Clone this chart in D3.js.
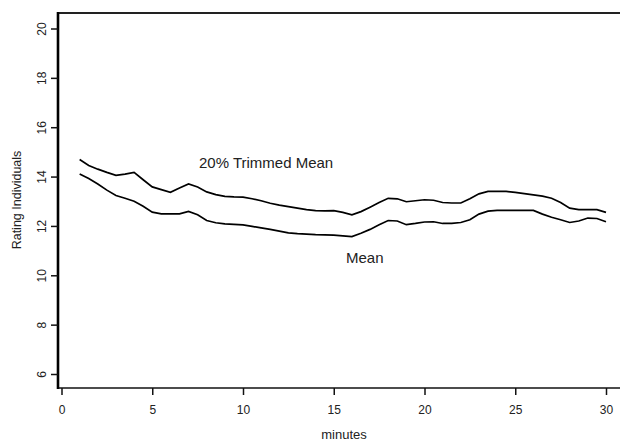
<!DOCTYPE html>
<html><head><meta charset="utf-8">
<script src="https://cdn.jsdelivr.net/npm/d3@7"></script>
<style>body{margin:0;background:#fff}svg{display:block}text{font-family:"Liberation Sans",Arial,sans-serif;fill:#222}</style>
</head><body>
<script>
const minutes = [1,1.5,2,2.5,3,3.5,4,4.5,5,5.5,6,6.5,7,7.5,8,8.5,9,9.5,10,10.5,11,11.5,12,12.5,13,13.5,14,14.5,15,15.5,16,16.5,17,17.5,18,18.5,19,19.5,20,20.5,21,21.5,22,22.5,23,23.5,24,24.5,25,25.5,26,26.5,27,27.5,28,28.5,29,29.5,30];
const trimmedMean = [14.69,14.45,14.30,14.17,14.05,14.10,14.17,13.87,13.58,13.47,13.36,13.54,13.70,13.58,13.38,13.27,13.20,13.18,13.17,13.10,13.02,12.92,12.84,12.78,12.72,12.66,12.62,12.61,12.62,12.55,12.45,12.58,12.76,12.95,13.12,13.10,12.98,13.02,13.06,13.04,12.95,12.93,12.93,13.10,13.30,13.40,13.40,13.40,13.36,13.31,13.26,13.21,13.12,12.95,12.72,12.66,12.66,12.66,12.55];
const meanValues = [14.10,13.92,13.70,13.45,13.23,13.12,13.00,12.80,12.56,12.49,12.49,12.49,12.59,12.45,12.22,12.13,12.08,12.06,12.04,11.98,11.92,11.86,11.79,11.72,11.69,11.67,11.65,11.64,11.63,11.60,11.57,11.70,11.86,12.05,12.22,12.20,12.05,12.10,12.16,12.17,12.10,12.10,12.14,12.25,12.48,12.60,12.63,12.63,12.63,12.63,12.63,12.48,12.35,12.25,12.14,12.20,12.32,12.30,12.17];
const xTicks = [0,5,10,15,20,25,30];
const yTicks = [6,8,10,12,14,16,18,20];
const seriesLabels = ["20% Trimmed Mean","Mean"];

const W=620,H=441;
const svg=d3.select("body").append("svg").attr("width",W).attr("height",H);
const x=d3.scaleLinear().domain([0,30]).range([61.5,606]);
const y=d3.scaleLinear().domain([6,20]).range([374,28.5]);
const frameTop=13,frameBottom=388,frameLeft=58;

// frame
svg.append("line").attr("x1",frameLeft).attr("x2",W+5).attr("y1",frameTop).attr("y2",frameTop).attr("stroke","#222").attr("stroke-width",2);
svg.append("line").attr("x1",frameLeft).attr("x2",W+5).attr("y1",frameBottom).attr("y2",frameBottom).attr("stroke","#111").attr("stroke-width",1.6);
svg.append("line").attr("x1",frameLeft).attr("x2",frameLeft).attr("y1",frameTop-1).attr("y2",frameBottom+1).attr("stroke","#000").attr("stroke-width",2.6);

// x axis
const xa=svg.append("g").attr("transform",`translate(0,${frameBottom})`)
 .call(d3.axisBottom(x).tickValues(xTicks).tickSize(7).tickPadding(10).tickFormat(d3.format("d")));
xa.select(".domain").remove();
xa.selectAll("line").attr("stroke","#111").attr("stroke-width",1.5);
xa.selectAll("text").attr("font-size",12).attr("font-family","Liberation Sans, Arial, sans-serif").attr("fill","#222");

// y axis
const ya=svg.append("g").attr("transform",`translate(${frameLeft},0)`)
 .call(d3.axisLeft(y).tickValues(yTicks).tickSize(7).tickPadding(0).tickFormat(d3.format("d")));
ya.select(".domain").remove();
ya.selectAll("line").attr("stroke","#111").attr("stroke-width",1.5);
ya.selectAll("text").attr("font-size",12).attr("font-family","Liberation Sans, Arial, sans-serif").attr("fill","#222")
  .attr("x",0).attr("dy",null).attr("text-anchor","middle").attr("dominant-baseline","central")
  .attr("transform","translate(-16,0) rotate(-90)");

// axis titles
svg.append("text").attr("x",344).attr("y",439).attr("text-anchor","middle").attr("font-size",13).text("minutes");
svg.append("text").attr("transform","translate(21,200) rotate(-90)").attr("text-anchor","middle").attr("font-size",12.5).text("Rating Individuals");

// lines
const line=d3.line().x((d,i)=>x(minutes[i])).y(d=>y(d));
[trimmedMean,meanValues].forEach(s=>{
  svg.append("path").datum(s).attr("d",line).attr("fill","none").attr("stroke","#000").attr("stroke-width",1.7);
});

// labels
svg.append("text").attr("x",199).attr("y",168).attr("font-size",15).text(seriesLabels[0]);
svg.append("text").attr("x",346).attr("y",263).attr("font-size",15).text(seriesLabels[1]);
</script>
</body></html>
